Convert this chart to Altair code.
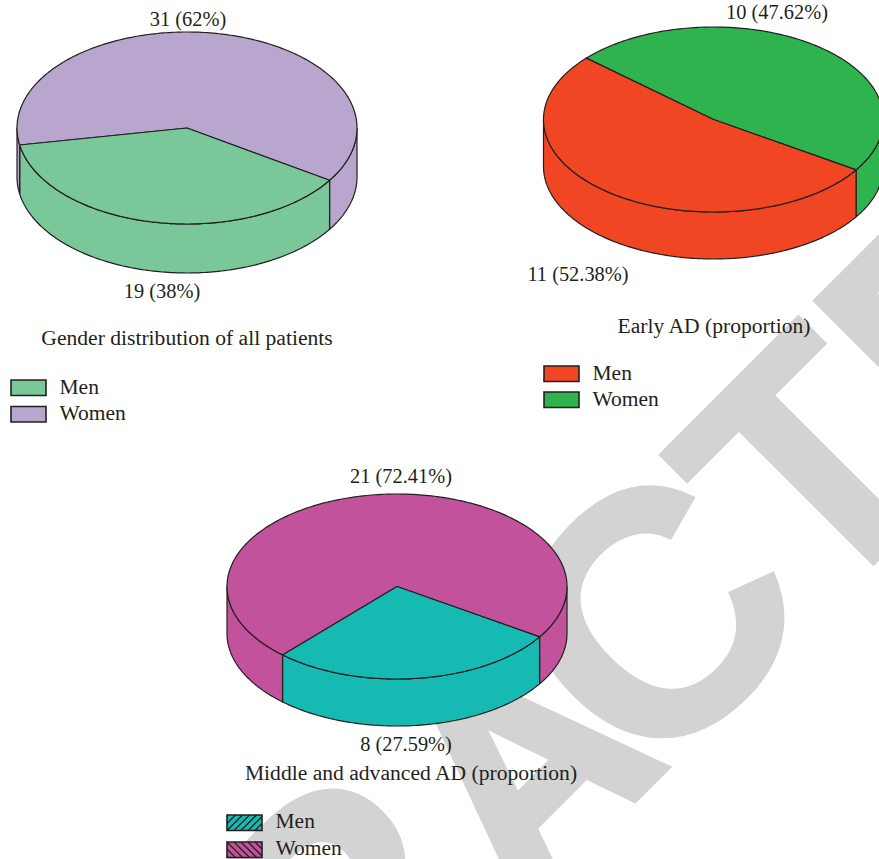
import math
import altair as alt
import pandas as pd

FONT = "Liberation Serif"
INK = "#231f20"
GREY = "#d3d3d3"
CANVAS_W, CANVAS_H = 879, 859

# Patient counts per panel (men, women)
panel_names = ["Gender distribution of all patients", "Early AD (proportion)", "Middle and advanced AD (proportion)"]
men_counts = [19, 11, 8]
women_counts = [31, 10, 21]
men_labels = ["19 (38%)", "11 (52.38%)", "8 (27.59%)"]
women_labels = ["31 (62%)", "10 (47.62%)", "21 (72.41%)"]
men_colors = ["#7ac899", "#f04623", "#16bab3"]
women_colors = ["#b9a6cf", "#2fb34e", "#c2529c"]

# Disc layout: centre x, centre y, radii, rim depth
disc_cx = [187, 713.5, 397]
disc_cy = [128, 119.5, 586.5]
disc_ry = [96, 92.5, 92.5]
disc_rx = 170
disc_depth = [49, 47, 47]
START_ANGLE = 33.0

# Text anchors
men_label_xy = [(162, 292), (578, 275), (406, 745)]
women_label_xy = [(188, 20), (777, 13), (401, 477)]
title_xy = [(187, 339), (714, 327), (411, 774)]
legend_xy = [(11, 380), (544, 366), (227, 815)]
legend_row = [26.5, 26, 27]
legend_text_y = [(388, 414), (374, 400), (822, 849)]
legend_hatched = [False, False, True]

# Diagonal overprint word, set letter by letter on its baseline
mark_letters = list("RETRACTED")
mark_x = [-139, 32, 190, 334.5, 521, 649, 819, 960, 1118]
mark_y = [1579, 1408, 1250, 1105.5, 911, 789, 618, 477, 319]
mark_sizes = [335, 335, 330, 360, 290, 345, 330, 330, 330]
mark_weights = [4, 4, 4, 4, 10, 4, 4, 4, 4]

x_scale = alt.Scale(domain=[0, CANVAS_W], range=[0, CANVAS_W])
y_scale = alt.Scale(domain=[0, CANVAS_H], range=[0, CANVAS_H])
X = alt.X("x:Q", scale=x_scale, axis=None)
Y = alt.Y("y:Q", scale=y_scale, axis=None)
X2 = alt.X2("x2:Q")
Y2 = alt.Y2("y2:Q")


def rim_point(cx, cy, ry, angle, drop=0.0):
    t = math.radians(angle)
    return cx + disc_rx * math.cos(t), cy + ry * math.sin(t) + drop


def arc_points(cx, cy, ry, a0, a1, drop=0.0):
    n = max(2, int(abs(a1 - a0)) + 1)
    return [rim_point(cx, cy, ry, a0 + (a1 - a0) * i / (n - 1), drop) for i in range(n)]


def polygon(points, color):
    closed = list(points) + [points[0]]
    df = pd.DataFrame(closed, columns=["x", "y"])
    df["i"] = range(len(df))
    return alt.Chart(df).mark_line(fill=color, stroke=INK, strokeWidth=1.2, strokeJoin="round").encode(x=X, y=Y, order="i:Q")


def side_wall(cx, cy, ry, depth, a0, a1, color):
    return polygon(arc_points(cx, cy, ry, a0, a1) + arc_points(cx, cy, ry, a1, a0, depth), color)


layers = []

# The overprint word sits underneath everything
wm = pd.DataFrame({"x": mark_x, "y": mark_y, "t": mark_letters, "s": mark_sizes, "w": mark_weights})
layers.append(
    alt.Chart(wm)
    .mark_text(font="Liberation Sans", fontWeight="bold", angle=315, align="left", baseline="alphabetic", color=GREY, fill=GREY, stroke=GREY)
    .encode(x=X, y=Y, text="t:N", size=alt.Size("s:Q", scale=None), strokeWidth=alt.StrokeWidth("w:Q", scale=None))
)

for p in range(3):
    cx, cy, ry, depth = disc_cx[p], disc_cy[p], disc_ry[p], disc_depth[p]
    men_sweep = 360 * men_counts[p] / (men_counts[p] + women_counts[p])
    a0, a1 = START_ANGLE, START_ANGLE + men_sweep
    # Visible rim is the front half of the ellipse, 0 to 180 degrees
    layers.append(side_wall(cx, cy, ry, depth, 0, a0, women_colors[p]))
    layers.append(side_wall(cx, cy, ry, depth, a0, min(a1, 180), men_colors[p]))
    if a1 < 180:
        layers.append(side_wall(cx, cy, ry, depth, a1, 180, women_colors[p]))
    layers.append(polygon([(cx, cy)] + arc_points(cx, cy, ry, a1, a0 + 360), women_colors[p]))
    layers.append(polygon([(cx, cy)] + arc_points(cx, cy, ry, a0, a1), men_colors[p]))

    # Swatches and their names
    lx, ly = legend_xy[p]
    for r, (name, color) in enumerate([("Men", men_colors[p]), ("Women", women_colors[p])]):
        top = ly + r * legend_row[p]
        bottom, right = top + 15.5, lx + 35
        sw = pd.DataFrame({"x": [lx], "x2": [right], "y": [top], "y2": [bottom]})
        if legend_hatched[p]:
            layers.append(alt.Chart(sw).mark_rect(fill=color).encode(x=X, x2=X2, y=Y, y2=Y2))
            segs = []
            h = bottom - top
            for k in range(-2, 8):
                x0 = lx + k * 7.0
                a, b = x0, x0 + h
                ya, yb = (bottom, top) if r == 0 else (top, bottom)
                if a < lx:
                    f = (lx - a) / h
                    ya = ya + (yb - ya) * f
                    a = lx
                if b > right:
                    f = (b - right) / h
                    yb = yb + (ya - yb) * f
                    b = right
                if a < b:
                    segs.append({"x": a, "x2": b, "y": ya, "y2": yb})
            layers.append(alt.Chart(pd.DataFrame(segs)).mark_rule(color=INK, strokeWidth=1.3).encode(x=X, x2=X2, y=Y, y2=Y2))
            layers.append(alt.Chart(sw).mark_rect(fill="transparent", stroke=INK, strokeWidth=1.6).encode(x=X, x2=X2, y=Y, y2=Y2))
        else:
            layers.append(alt.Chart(sw).mark_rect(fill=color, stroke=INK, strokeWidth=1.6).encode(x=X, x2=X2, y=Y, y2=Y2))
        lab = pd.DataFrame({"x": [lx + 48.5], "y": [legend_text_y[p][r]], "t": [name]})
        layers.append(alt.Chart(lab).mark_text(font=FONT, fontSize=21.5, align="left", baseline="middle", color=INK).encode(x=X, y=Y, text="t:N"))

# Count labels and panel captions
counts, captions = [], []
for p in range(3):
    counts.append({"x": men_label_xy[p][0], "y": men_label_xy[p][1], "t": men_labels[p]})
    counts.append({"x": women_label_xy[p][0], "y": women_label_xy[p][1], "t": women_labels[p]})
    captions.append({"x": title_xy[p][0], "y": title_xy[p][1], "t": panel_names[p]})
layers.append(alt.Chart(pd.DataFrame(counts)).mark_text(font=FONT, fontSize=20.4, align="center", baseline="middle", color=INK).encode(x=X, y=Y, text="t:N"))
layers.append(alt.Chart(pd.DataFrame(captions)).mark_text(font=FONT, fontSize=21.6, align="center", baseline="middle", color=INK).encode(x=X, y=Y, text="t:N"))

chart = alt.layer(*layers).properties(width=CANVAS_W, height=CANVAS_H, padding=0, autosize=alt.AutoSizeParams(type="none"), background="white").configure_view(stroke=None)
chart.save("out.html", embed_options={"renderer": "svg", "actions": False})
